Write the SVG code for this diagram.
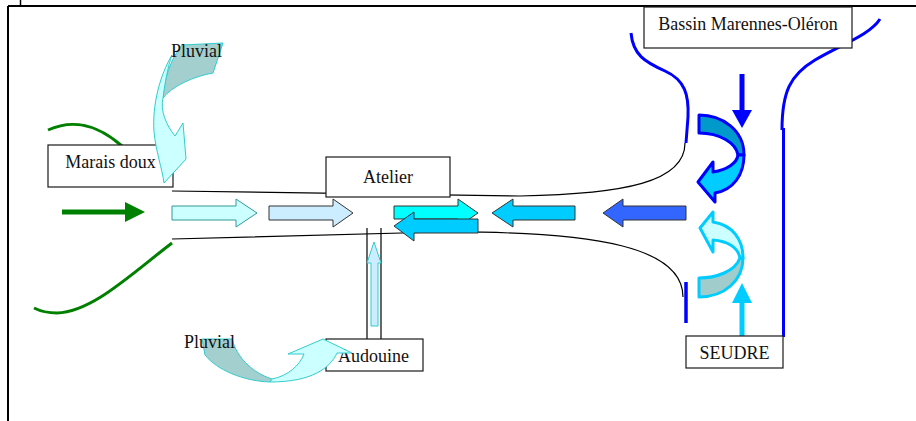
<svg xmlns="http://www.w3.org/2000/svg" width="916" height="421" viewBox="0 0 916 421">
<style>
.box{fill:#fff;stroke:#1a1a1a;stroke-width:1.2}
.lbl{font-family:"Liberation Serif","Times New Roman",serif;font-size:18px;fill:#111}
.chan{fill:none;stroke:#000;stroke-width:1.2}
.blue{fill:none;stroke:#0000FF;stroke-width:3}
.green{fill:none;stroke:#008000;stroke-width:3}
.blk{stroke:#333;stroke-width:1}
</style>
<rect width="916" height="421" fill="#fff"/>
<g id="frame">
<line x1="8" y1="6" x2="916" y2="6" stroke="#000" stroke-width="2"/>
<line x1="8" y1="6" x2="8" y2="421" stroke="#000" stroke-width="2"/>
<line x1="20.5" y1="0" x2="20.5" y2="5" stroke="#000" stroke-width="1.5"/>
</g>
<g id="connectors">
<!-- channel -->
<path class="chan" d="M172,191 L520,196 C625,194 685,182 685,143"/>
<path class="chan" d="M172,239 L440,232 C600,231 683,248 683,297"/>
<line class="chan" x1="367" y1="228" x2="367" y2="339"/>
<line class="chan" x1="381" y1="228" x2="381" y2="339"/>
<!-- green banks -->
<path class="green" d="M48,130 C68,121 92,120 122,146"/>
<path class="green" d="M172,243 C130,275 92,312 57,313 C47,313 40,311 34,308"/>
<!-- blue banks -->
<path class="blue" d="M631,33 C633,55 645,62 665,71 C685,80 689,95 688,117 L686,143"/>
<path class="blue" d="M880,19 C870,35 840,45 815,60 C790,75 782,92 782,130"/>
<line x1="783.5" y1="128" x2="783.5" y2="337" stroke="#0000FF" stroke-width="3"/>
<line x1="686" y1="282" x2="686" y2="323" stroke="#0000FF" stroke-width="3.5"/>
<!-- green arrow -->
<line x1="62" y1="212" x2="127" y2="212" stroke="#008000" stroke-width="5"/>
<polygon points="125,202 145,212 125,222" fill="#008000"/>
<!-- flow arrows -->
<polygon points="172,206 236,206 236,199 257,213 236,227 236,220 172,220" fill="#CCFFFF" stroke="#339999" stroke-width="1"/>
<polygon class="blk" points="269,206 333,206 333,199 353,213 333,227 333,220 269,220" fill="#CCECFF"/>
<polygon class="blk" points="394,206 458,206 458,199 478,213 458,227 458,219 394,219" fill="#00FFFF"/>
<polygon class="blk" points="478,219 414,219 414,212 394,226 414,241 414,233 478,233" fill="#00CCFF"/>
<polygon class="blk" points="575,206 513,206 513,199 492,213 513,227 513,220 575,220" fill="#00CCFF"/>
<polygon class="blk" points="686,206 623,206 623,199 603,213 623,227 623,220 686,220" fill="#3366FF"/>
<!-- Audouine up arrow -->
<polygon points="371,326 378,326 378,263 381,263 374,242 367,263 371,263" fill="#CCECFF" stroke="#33CCCC" stroke-width="1"/>
<!-- blue down arrow -->
<line x1="742" y1="74" x2="742" y2="111" stroke="#0000FF" stroke-width="5"/>
<polygon points="732,110 752,110 742,128" fill="#0000FF"/>
<!-- cyan up arrow (Seudre) -->
<line x1="742" y1="302" x2="742" y2="336" stroke="#00CCFF" stroke-width="5"/>
<polygon points="732,303 752,303 742,283" fill="#00CCFF"/>
<!-- upper curved arrow -->
<path d="M699,115 C722,115 744,130 744,155 L738,155 C736,143 720,133 699,133 Z" fill="#0099CC" stroke="#0000FF" stroke-width="3" stroke-linejoin="round"/>
<path d="M744,155 C744,175 733,190 715,193 L715,202 L698,182 L713,162 L713,172 C727,170 737,163 738,155 Z" fill="#00CCFF" stroke="#0000FF" stroke-width="3" stroke-linejoin="round"/>
<!-- lower curved arrow -->
<path d="M699,278 C715,278 735,272 740,258 L743,258 C743,280 725,297 699,297 Z" fill="#A0CCCC" stroke="#00CCFF" stroke-width="3" stroke-linejoin="round"/>
<path d="M743,258 C743,240 733,225 713,222 L713,212 L700,228 L713,252 L713,240 C727,241 738,247 740,258 Z" fill="#CCFFFF" stroke="#00CCFF" stroke-width="3" stroke-linejoin="round"/>
</g>
<g id="marais">
<rect class="box" x="48" y="145" width="125" height="42"/>
<text class="lbl" x="110.5" y="168" text-anchor="middle">Marais doux</text>
</g>
<g id="pluvial-top">
<path d="M182,45 L223,43 L213,73 C195,76 172,86 163,98 C164,80 170,60 182,45 Z" fill="#A3CFCF" stroke="#33CCCC" stroke-width="1"/>
<path d="M172,55 C160,75 152,105 154,132 C156,152 162,168 164,183 L186,159 L183,123 L175,136 C166,125 160,110 163,98 C165,82 168,66 172,55 Z" fill="#CCFFFF" stroke="#33CCCC" stroke-width="1"/>
<text class="lbl" x="171" y="57">Pluvial</text>
</g>
<g id="atelier">
<rect class="box" x="326" y="157" width="124" height="40"/>
<text class="lbl" x="388" y="183" text-anchor="middle">Atelier</text>
</g>
<g id="bassin">
<rect class="box" x="644" y="7" width="208" height="41"/>
<text class="lbl" x="748" y="30" text-anchor="middle">Bassin Marennes-Oléron</text>
</g>
<g id="audouine">
<rect class="box" x="326" y="339" width="97" height="32"/>
<text class="lbl" x="338" y="362">Audouine</text>
</g>
<g id="pluvial-bottom">
<path d="M202,339 L232,339 C236,355 250,372 272,379 L270,382 C243,381 217,370 205,355 Z" fill="#A3CFCF" stroke="#33CCCC" stroke-width="1"/>
<path d="M272,379 C288,376 300,365 304,354 L288,354 L323,339 L352,353 L337,353 C330,368 312,382 270,382 Z" fill="#CCFFFF" stroke="#33CCCC" stroke-width="1"/>
<text class="lbl" x="184" y="348">Pluvial</text>
</g>
<g id="seudre">
<rect class="box" x="686" y="336" width="97" height="32"/>
<text class="lbl" x="734.5" y="359" text-anchor="middle">SEUDRE</text>
</g>
</svg>
